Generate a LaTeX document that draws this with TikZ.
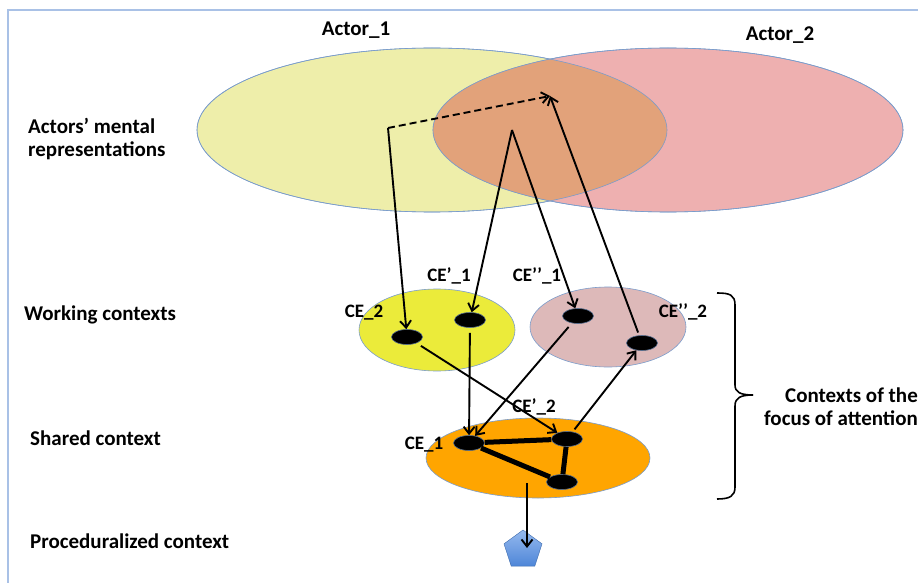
\documentclass[tikz,border=0pt]{standalone}
\usepackage{fontspec}
\setmainfont{Carlito}
\usetikzlibrary{shapes.geometric,arrows.meta}
\definecolor{frameblue}{HTML}{A9C1E6}
\definecolor{yelA}{HTML}{EEEEAA}
\definecolor{pinkA}{HTML}{EEB0B0}
\definecolor{overl}{HTML}{E2A27A}
\definecolor{edgeb}{HTML}{7A9CCB}
\definecolor{wyel}{HTML}{EBEB3A}
\definecolor{wpink}{HTML}{DDB9B9}
\definecolor{orangeS}{HTML}{FFA500}
\definecolor{pentT}{HTML}{95B9EE}
\definecolor{pentB}{HTML}{4E86D8}
\begin{document}
\begin{tikzpicture}[x=1pt,y=-1pt,
  lbl/.style={font=\bfseries\fontsize{21}{23}\selectfont, inner sep=0pt},
  celbl/.style={font=\bfseries\fontsize{19}{22}\selectfont, inner sep=0pt},
  big/.style={ellipse, draw=edgeb, line width=0.6pt, inner sep=0pt, minimum width=470pt, minimum height=164pt},
  ctx/.style={ellipse, draw=edgeb, line width=0.6pt, inner sep=0pt},
  dot/.style={ellipse, fill=black, draw=edgeb!70!black, line width=0.6pt, inner sep=0pt, minimum width=31pt, minimum height=15pt},
  arr/.style={-{Straight Barb[length=7pt,width=11pt]}, line width=1.9pt},
  link/.style={line width=5pt}
]
\useasboundingbox (0,0) rectangle (918,583);
% frame
\draw[frameblue, line width=1.2pt] (8,583) -- (8,10) -- (918,10);
% big ellipses
\node[big, fill=yelA] (act1) at (432,130) {};
\node[big, fill=pinkA] (act2) at (668,130) {};
\begin{scope}
  \clip (432,130) ellipse [x radius=235pt, y radius=82pt];
  \fill[overl] (668,130) ellipse [x radius=235pt, y radius=82pt];
\end{scope}
\draw[edgeb, line width=0.6pt] (432,130) ellipse [x radius=235pt, y radius=82pt];
\draw[edgeb, line width=0.6pt] (668,130) ellipse [x radius=235pt, y radius=82pt];
\node[lbl] (a1lbl) at (356,30) {Actor\_1};
\node[lbl] (a2lbl) at (780,35) {Actor\_2};
% left labels
\node[lbl, anchor=west, align=left] (amr) at (28,139) {Actors’ mental\\representations};
\node[lbl, anchor=west] (wc) at (24,315) {Working contexts};
\node[lbl, anchor=west] (sc) at (30,438) {Shared context};
\node[lbl, anchor=west] (pc) at (30,541) {Proceduralized context};
% working contexts
\node[ctx, fill=wyel, minimum width=156pt, minimum height=82pt] (wc1) at (437,330) {};
\node[ctx, fill=wpink, minimum width=156pt, minimum height=80pt] (wc2) at (608,327) {};
% shared context
\node[ctx, fill=orangeS, minimum width=224pt, minimum height=80pt] (shc) at (538,458) {};
% dots
\node[dot] (ce2) at (407,337) {};
\node[dot] (ce1p) at (470,320) {};
\node[dot] (ce1pp) at (578,316) {};
\node[dot] (ce2pp) at (642,343) {};
\node[dot] (ce1) at (469,443) {};
\node[dot] (ce2p) at (567,439) {};
\node[dot] (ce3) at (562,482) {};
% dot labels
\node[celbl] (l2) at (364,313) {CE\_2};
\node[celbl] (l1p) at (449,276) {CE’\_1};
\node[celbl] (l1pp) at (537,276) {CE’’\_1};
\node[celbl] (l2pp) at (683,312) {CE’’\_2};
\node[celbl] (l1) at (424,445) {CE\_1};
\node[celbl] (l2p) at (534,407) {CE’\_2};
% pentagon
\node[regular polygon, regular polygon sides=5, minimum size=40pt, inner sep=0pt,
      top color=pentT, bottom color=pentB, draw=pentB!80!black, line width=0.4pt] (pent) at (523,550) {};
% helper coordinates
\coordinate (corner) at (388,128);
\coordinate (tip) at (550,96);
\coordinate (apex) at (512,130);
\coordinate (shcout) at (527,483);
\coordinate (pentin) at (527,548);
% links in shared context
\draw[link] (ce1) -- (ce2p);
\draw[link] (ce1) -- (ce3);
\draw[link] (ce2p) -- (ce3);
% arrows from mental representations
\draw[arr] (corner) -- (ce2);
\draw[arr, dash pattern=on 7pt off 4pt] (corner) -- (tip);
\draw[arr] (apex) -- (ce1p);
\draw[arr] (apex) -- (ce1pp);
\draw[arr, shorten <=3pt] (ce2pp) -- (tip);
% arrows between contexts
\draw[arr, shorten <=5pt] (ce1p) -- (ce1);
\draw[arr, shorten <=5pt] (ce1pp) -- (ce1);
\draw[arr, shorten <=5pt] (ce2) -- (ce2p);
\draw[arr, shorten <=3pt] (ce2p) -- (ce2pp);
\draw[arr] (shcout) -- (pentin);
% brace
\draw[line width=1.6pt] (717,293) .. controls (730,293) and (735,295) .. (735,305)
  -- (735,385) .. controls (735,392) and (740,395) .. (753,395);
\draw[line width=1.6pt] (753,395) .. controls (740,395) and (735,398) .. (735,406)
  -- (735,487) .. controls (735,496) and (730,499) .. (717,499);
\node[lbl, align=right, anchor=east] (cfa) at (918,407) {Contexts of the\\focus of attention};
\end{tikzpicture}
\end{document}
